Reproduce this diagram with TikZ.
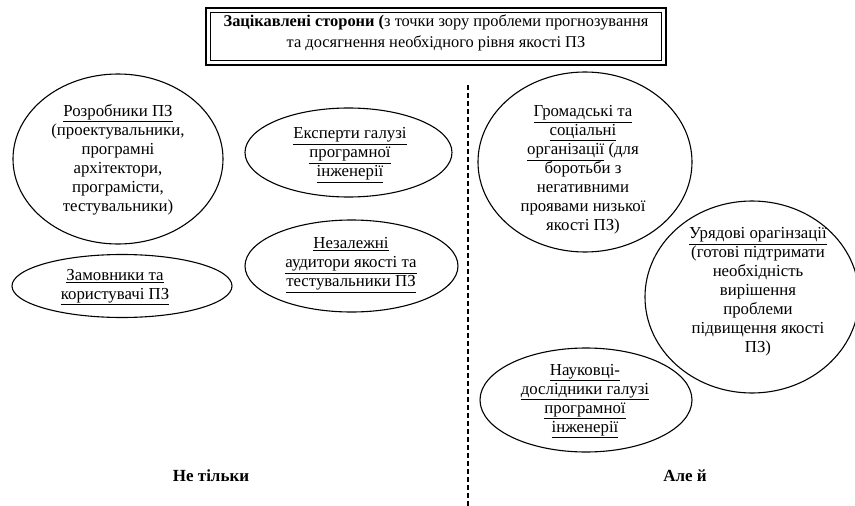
\documentclass[tikz,border=0pt]{standalone}
\usepackage{fontspec}
\setmainfont{Liberation Serif}
\usetikzlibrary{shapes.geometric}
\tikzset{
  bubble/.style={draw, ellipse, line width=1.1pt, inner sep=0pt},
  txt/.style={align=center, inner sep=0pt, font=\fontsize{16.8}{19}\selectfont},
  foot/.style={inner sep=0pt, font=\fontsize{17}{19}\selectfont\bfseries},
}
\newcommand{\ul}[1]{\underline{#1}}
\begin{document}
\begin{tikzpicture}[x=1pt,y=-1pt]
\useasboundingbox (0,0) rectangle (855,506);
% title
\draw[line width=2.6pt] (206,8) rectangle (666,65);
\draw[line width=0.8pt] (210.5,12.5) rectangle (661.5,60.5);
\node[txt, font=\fontsize{16.4}{21.5}\selectfont] (title) at (436,33) {\textbf{Зацікавлені сторони (}з точки зору проблеми прогнозування\\та досягнення необхідного рівня якості ПЗ};
% divider
\coordinate (dtop) at (468,85);
\coordinate (dbot) at (468,506);
\draw[line width=1.5pt, dash pattern=on 5pt off 3pt] (dtop) -- (dbot);
% left
\node[bubble, minimum width=210pt, minimum height=170pt] (rozr) at (118,159) {};
\node[txt] (rozrT) at (118,160) {\ul{Розробники ПЗ}\\(проектувальники,\\програмні\\архітектори,\\програмісти,\\тестувальники)};
\node[bubble, minimum width=220pt, minimum height=63pt] (zam) at (122,286) {};
\node[txt] (zamT) at (115,287) {\ul{Замовники та}\\\ul{користувачі ПЗ}};
\node[bubble, minimum width=207pt, minimum height=89pt] (eksp) at (348.5,152.5) {};
\node[txt] (ekspT) at (350,155) {\ul{Експерти галузі}\\\ul{програмної}\\\ul{інженерії}};
\node[bubble, minimum width=213pt, minimum height=92pt] (nez) at (351.5,266) {};
\node[txt] (nezT) at (351,265) {\ul{Незалежні}\\\ul{аудитори якості та}\\\ul{тестувальники ПЗ}};
% right
\node[bubble, minimum width=214pt, minimum height=180pt] (grom) at (585,162) {};
\node[txt] (gromT) at (583,170) {\ul{Громадські та}\\\ul{соціальні}\\\ul{організації} (для\\боротьби з\\негативними\\проявами низької\\якості ПЗ)};
\node[bubble, minimum width=214pt, minimum height=192pt] (ur) at (752,297) {};
\node[txt] (urT) at (758,292) {\ul{Урядові орагінзації}\\(готові підтримати\\необхідність\\вирішення\\проблеми\\підвищення якості\\ПЗ)};
\node[bubble, minimum width=212pt, minimum height=104pt] (nauk) at (586,400) {};
\node[txt] (naukT) at (585,401) {\ul{Науковці-}\\\ul{дослідники галузі}\\\ul{програмної}\\\ul{інженерії}};
% footers
\node[foot] (ne) at (211,476) {Не тільки};
\node[foot] (ale) at (685,476) {Але й};
\end{tikzpicture}
\end{document}
